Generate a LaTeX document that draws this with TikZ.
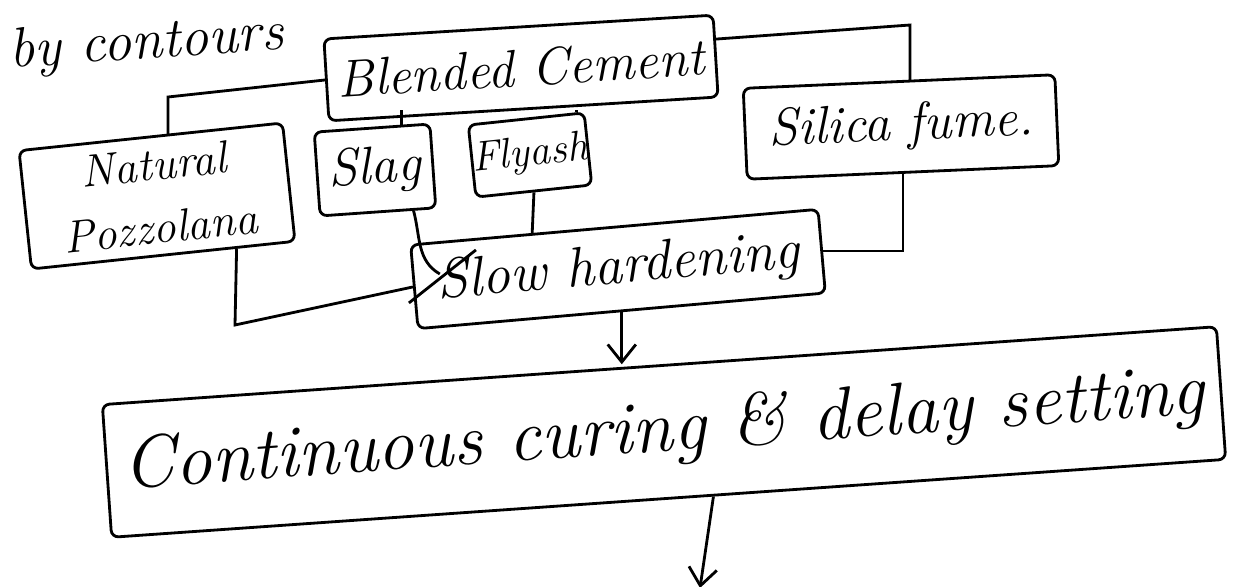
\documentclass[tikz,border=0pt]{standalone}
\usetikzlibrary{calc,arrows.meta}
\begin{document}
\begin{tikzpicture}[x=0.02cm,y=-0.02cm,
  box/.style={draw, line width=1.6pt, rounded corners=4pt, align=center, inner sep=0pt},
  conn/.style={line width=1.6pt},
  arr/.style={line width=1.6pt, -{Straight Barb[length=10pt,width=16pt,line width=1.6pt]}}]
\useasboundingbox (0,0) rectangle (1239,587);
% title
\node[font=\itshape\fontsize{32}{38}\selectfont, anchor=base west, rotate=4, inner sep=0pt] (by) at (10,68) {by contours};
% boxes
\node[box, minimum width=7.8cm, minimum height=1.64cm, rotate=3.5, font=\itshape\fontsize{30}{36}\selectfont] (bc) at (521,68) {Blended Cement};
\node[box, minimum width=5.3cm, minimum height=2.38cm, rotate=6, font=\itshape\fontsize{26}{36}\selectfont] (np) at (157,196) {Natural\\Pozzolana};
\node[box, minimum width=2.32cm, minimum height=1.68cm, rotate=4, font=\itshape\fontsize{30}{36}\selectfont] (sl) at (375,170) {Slag};
\node[box, minimum width=2.15cm, minimum height=1.45cm, rotate=6, font=\itshape\fontsize{24}{30}\selectfont] (fa) at (530,155) {Flyash};
\node[box, minimum width=6.24cm, minimum height=1.82cm, rotate=2.5, font=\itshape\fontsize{30}{36}\selectfont] (sf) at (901,127) {Silica fume.};
\node[box, minimum width=8.18cm, minimum height=1.68cm, rotate=5, font=\itshape\fontsize{32}{38}\selectfont] (sh) at (618,269) {Slow hardening};
\node[box, minimum width=22.34cm, minimum height=2.66cm, rotate=4, font=\itshape\fontsize{42}{48}\selectfont] (cc) at (664,432) {Continuous curing \& delay setting};
% connectors
\coordinate (b1) at (168,97);
\draw[conn] (bc.west) -- (b1) -- (b1 |- np.north);
\coordinate (bcr) at ($(bc.east)!0.4!(bc.north east)$);
\coordinate (b2) at (910,25);
\draw[conn] (bcr) -- (b2) -- (b2 |- sf.north);
\coordinate (slt) at ($(sl.north)!0.5!(sl.north east)$);
\draw[conn] (slt) -- (slt |- bc.south);
\coordinate (fat) at ($(fa.north)!0.85!(fa.north east)$);
\draw[conn] (fat) -- (fat |- bc.south);
\coordinate (npb) at ($(np.south)!0.55!(np.south east)$);
\coordinate (b3) at (235,325);
\draw[conn] (npb) -- (b3) -- (sh.west);
\draw[conn] ($(sl.south)!0.6!(sl.south east)$) to[out=-75,in=150] ($(sh.north west)!0.35!(sh.south west)+(28,0)$);
\draw[conn] ($(sh.west)+(63,-37)$) -- ($(sh.west)+(-4,16)$);
\draw[conn] (fa.south) -- ($(sh.north west)!0.3!(sh.north east)$);
\draw[conn] (sf.south) -- (sf.south |- sh.east) -- (sh.east);
\draw[arr] (sh.south) -- (sh.south |- cc.north);
\coordinate (ccend) at (700,588);
\draw[arr] ($(cc.south)!0.08!(cc.south east)$) -- (ccend);
\end{tikzpicture}
\end{document}
